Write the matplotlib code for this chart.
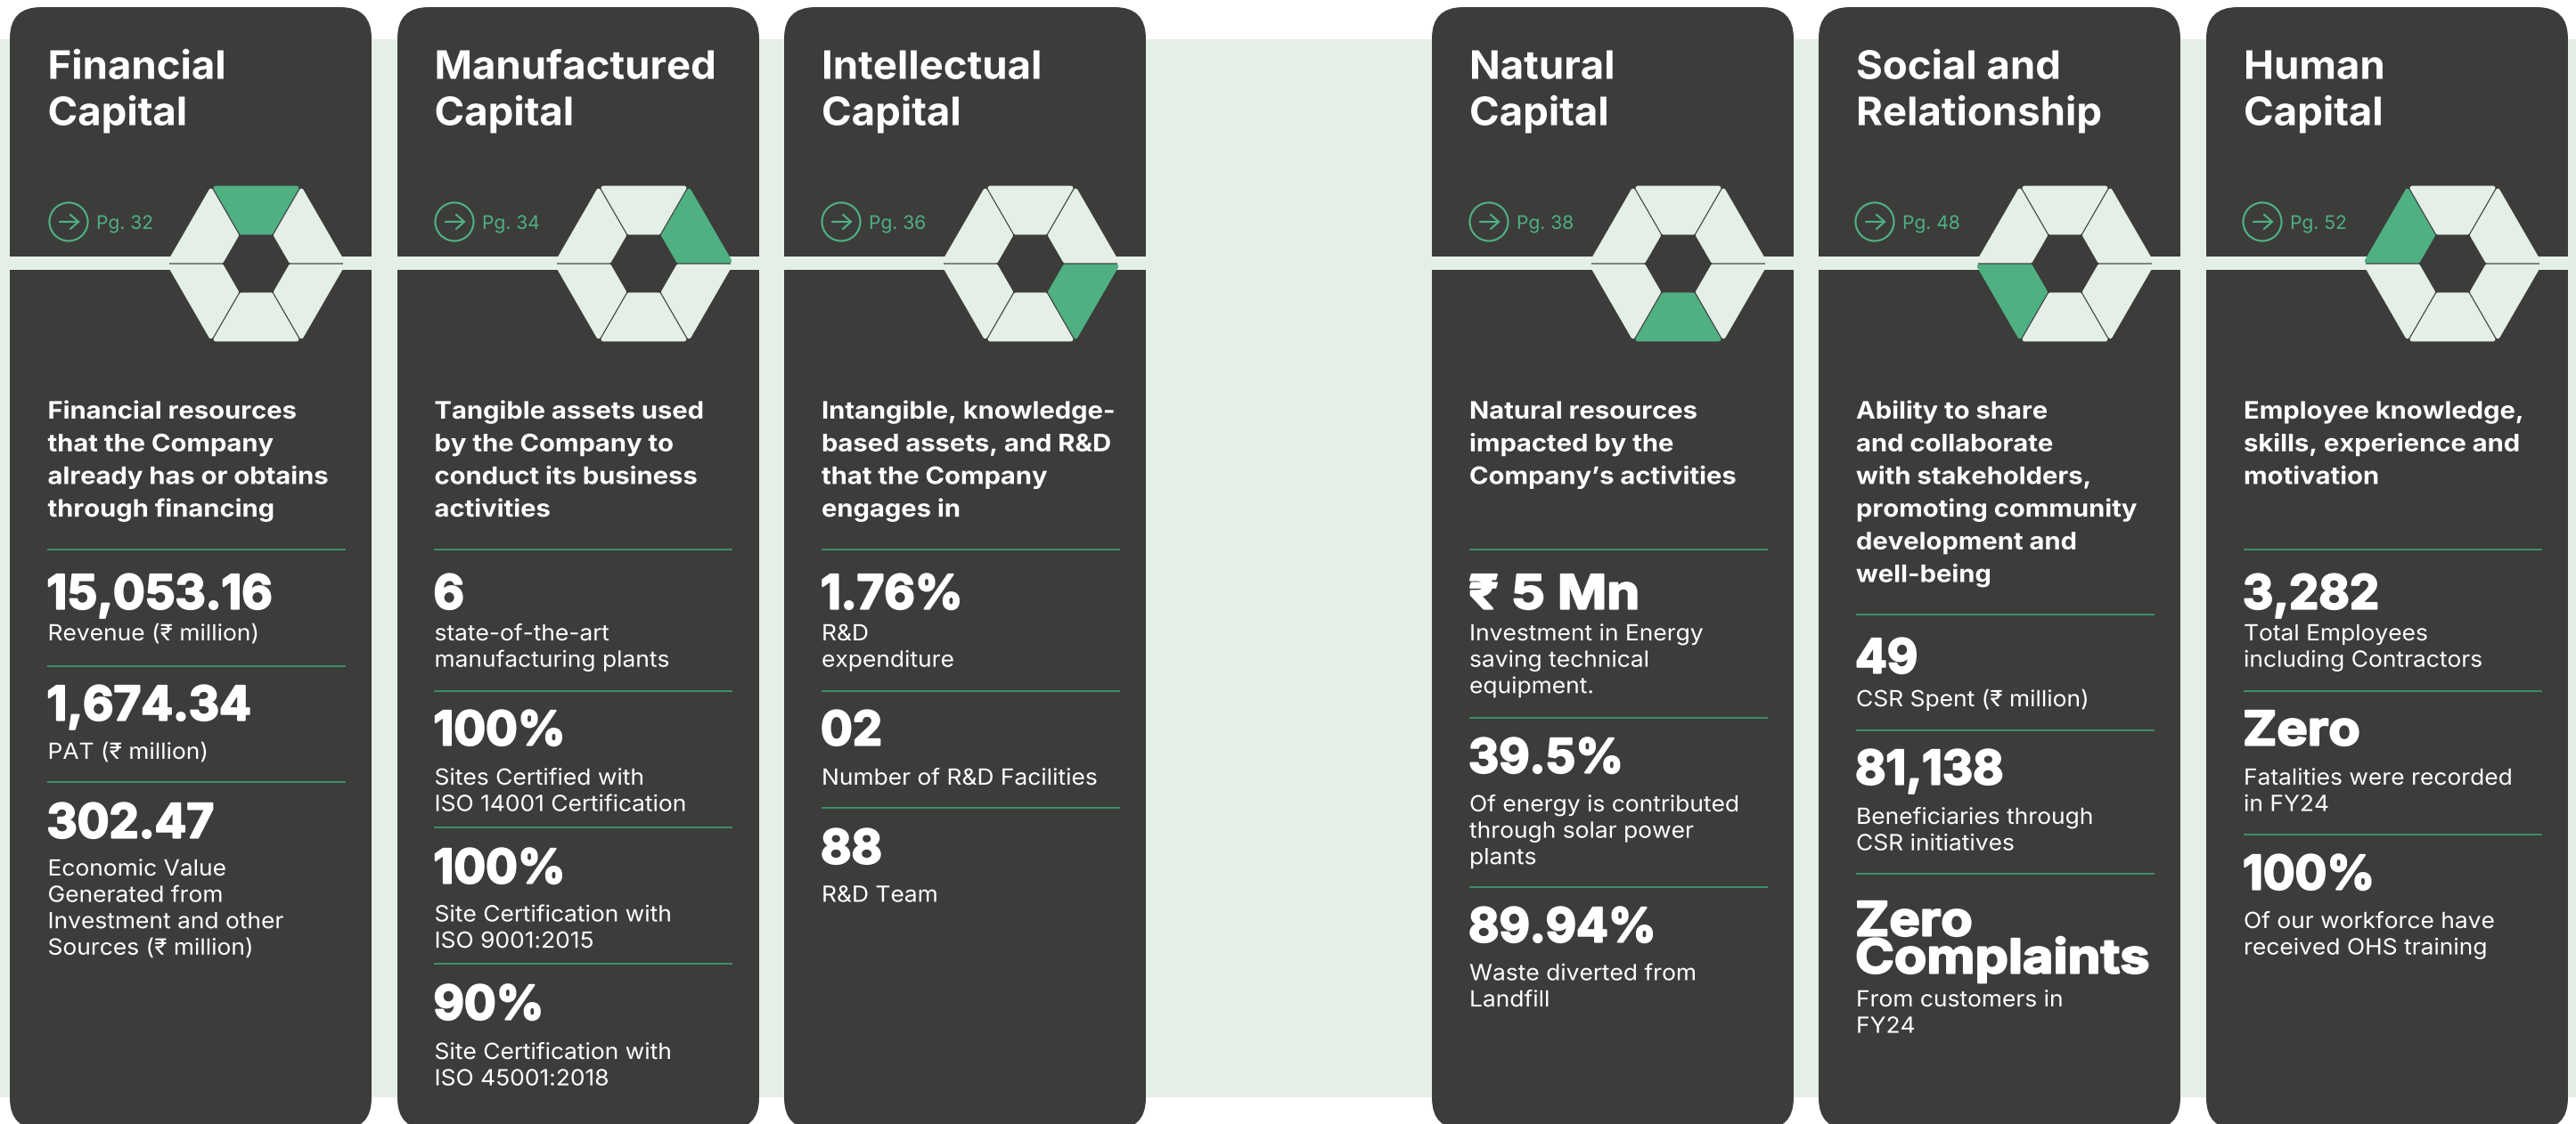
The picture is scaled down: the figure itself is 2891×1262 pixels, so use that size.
import numpy as np
import matplotlib
matplotlib.use("Agg")
import matplotlib.pyplot as plt
from matplotlib.patches import FancyBboxPatch, Rectangle, Polygon, Circle
from matplotlib.patheffects import AbstractPathEffect
from matplotlib.transforms import Affine2D

# ---------- content ----------
titles = [["Financial", "Capital"], ["Manufactured", "Capital"], ["Intellectual", "Capital"],
          ["Natural", "Capital"], ["Social and", "Relationship"], ["Human", "Capital"]]
pages = ["Pg. 32", "Pg. 34", "Pg. 36", "Pg. 38", "Pg. 48", "Pg. 52"]
highlight_sector = [1, 0, 5, 4, 3, 2]
descriptions = [
    ["Financial resources", "that the Company", "already has or obtains", "through financing"],
    ["Tangible assets used", "by the Company to", "conduct its business", "activities"],
    ["Intangible, knowledge-", "based assets, and R&D", "that the Company", "engages in"],
    ["Natural resources", "impacted by the", "Company’s activities"],
    ["Ability to share", "and collaborate", "with stakeholders,", "promoting community", "development and", "well-being"],
    ["Employee knowledge,", "skills, experience and", "motivation"],
]
values = [
    [["15,053.16"], ["1,674.34"], ["302.47"]],
    [["6"], ["100%"], ["100%"], ["90%"]],
    [["1.76%"], ["02"], ["88"]],
    [["₹ 5 Mn"], ["39.5%"], ["89.94%"]],
    [["49"], ["81,138"], ["Zero", "Complaints"]],
    [["3,282"], ["Zero"], ["100%"]],
]
labels = [
    [["Revenue (₹ million)"], ["PAT (₹ million)"],
     ["Economic Value", "Generated from", "Investment and other", "Sources (₹ million)"]],
    [["state-of-the-art", "manufacturing plants"], ["Sites Certified with", "ISO 14001 Certification"],
     ["Site Certification with", "ISO 9001:2015"], ["Site Certification with", "ISO 45001:2018"]],
    [["R&D", "expenditure"], ["Number of R&D Facilities"], ["R&D Team"]],
    [["Investment in Energy", "saving technical", "equipment."],
     ["Of energy is contributed", "through solar power", "plants"],
     ["Waste diverted from", "Landfill"]],
    [["CSR Spent (₹ million)"], ["Beneficiaries through", "CSR initiatives"], ["From customers in", "FY24"]],
    [["Total Employees", "including Contractors"], ["Fatalities were recorded", "in FY24"],
     ["Of our workforce have", "received OHS training"]],
]

# ---------- layout (pixels of the 2891x1262 canvas) ----------
W, H = 2891, 1262
card_left = [11, 446, 880, 1607, 2041, 2476]
card_w = 406
text_x = [53.5, 487.5, 922, 1649, 2083, 2518]
icon_x = [77, 510, 944, 1671, 2104, 2539]
rule_y = [[617, 748, 878], [617, 776, 929, 1082], [617, 776, 907],
          [617, 806, 996], [690, 820, 981], [617, 776, 937]]
value_y = [[683.5, 808.5, 940.5], [683.5, 836.5, 991.5, 1144.5], [683.5, 836.5, 969.5],
           [683.5, 867.5, 1057.5], [755.5, 880.5, 1050.5], [683.5, 836.5, 998.5]]
label_y = [[719, 852, 983], [719, 881, 1034.5, 1189], [719, 881, 1012.5],
           [719, 911, 1100.5], [793, 925, 1130], [719, 881, 1042]]
DIGIT_SX = 1.0
special_sx = {"₹ 5 Mn": 1.12, "Zero": 1.09, "Complaints": 1.12}

DARK, LIGHT, GREEN, RULE = "#3C3C3B", "#E4EFE7", "#4FB082", "#3AA377"
FONT = ["Inter", "DejaVu Sans"]


class Stretch(AbstractPathEffect):
    """Widen glyphs about the text origin."""
    def __init__(self, sx, stroke=0.0):
        self.sx, self.stroke = sx, stroke

    def draw_path(self, renderer, gc, tpath, affine, rgbFace=None):
        m = affine.get_matrix().copy()
        m[0, 0] *= self.sx
        m[0, 1] *= self.sx
        gc0 = renderer.new_gc()
        gc0.copy_properties(gc)
        if self.stroke:
            gc0.set_linewidth(self.stroke)
            gc0.set_foreground(rgbFace)
        renderer.draw_path(gc0, tpath, Affine2D(m), rgbFace)
        gc0.restore()


def px(v):
    return v * 0.72


fig = plt.figure(figsize=(W / 100, H / 100), dpi=100, facecolor="white")
ax = fig.add_axes([0, 0, 1, 1])
ax.set_xlim(0, W)
ax.set_ylim(H, 0)
ax.axis("off")


def put(x, y, s, size, weight, sx, color="white", stroke=0.0):
    ax.text(x, y, s, fontsize=px(size), fontweight=weight, family=FONT, color=color,
            va="baseline", ha="left", path_effects=[Stretch(sx, stroke)], zorder=6)


def inset(poly, d):
    poly = np.asarray(poly, float)
    n = len(poly)
    area = 0.5 * np.sum(poly[:, 0] * np.roll(poly[:, 1], -1) - np.roll(poly[:, 0], -1) * poly[:, 1])
    sgn = 1 if area > 0 else -1
    lines = []
    for i in range(n):
        a, b = poly[i], poly[(i + 1) % n]
        t = (b - a) / np.linalg.norm(b - a)
        nrm = np.array([-t[1], t[0]]) * sgn
        lines.append((a + nrm * d, t))
    out = []
    for i in range(n):
        p1, t1 = lines[i - 1]
        p2, t2 = lines[i]
        s = np.linalg.solve(np.column_stack([t1, -t2]), p2 - p1)
        out.append(p1 + t1 * s[0])
    return np.array(out)


def hex_pts(cx, cy, r):
    return [(cx + r * np.cos(np.radians(a)), cy + r * np.sin(np.radians(a))) for a in range(0, 360, 60)]


ax.add_patch(Rectangle((0, 44), W, 1232 - 44, fc=LIGHT, ec="none", zorder=1))
R_OUT, R_IN, GAP, ROUND = 101.6, 36.8, 0.6, 2.5

for i, left in enumerate(card_left):
    ax.add_patch(FancyBboxPatch((left + 35, 8 + 35), card_w - 70, 1268 - 8 - 70,
                                boxstyle="round,pad=35,rounding_size=35", fc=DARK, ec="none", zorder=2))
    ax.add_patch(Rectangle((left, 288), card_w, 15, fc=LIGHT, ec="none", zorder=3))

    # hexagon wheel
    cx, cy = left + 276.5, 296
    ax.add_patch(Polygon(hex_pts(cx, cy, R_OUT - 4.0), closed=True, fc=DARK, ec="none", zorder=3.5))
    for k in range(6):
        a0, a1 = np.radians(-60 * k), np.radians(-60 * (k + 1))
        pts = [(cx + R_OUT * np.cos(a0), cy + R_OUT * np.sin(a0)), (cx + R_OUT * np.cos(a1), cy + R_OUT * np.sin(a1)),
               (cx + R_IN * np.cos(a1), cy + R_IN * np.sin(a1)), (cx + R_IN * np.cos(a0), cy + R_IN * np.sin(a0))]
        col = GREEN if k == highlight_sector[i] else LIGHT
        ax.add_patch(Polygon(inset(pts, GAP + ROUND), closed=True, fc=col, ec=col,
                             lw=px(2 * ROUND), joinstyle="round", zorder=4))

    tx = text_x[i]
    for j, line in enumerate(titles[i]):
        put(tx, 88.5 + j * 52, line, 44, "bold", 1.035)

    # page reference
    ix, iy = icon_x[i], 249
    ax.add_patch(Circle((ix, iy), 21.5, fc="none", ec=GREEN, lw=px(2.2), zorder=5))
    ax.plot([ix - 10, ix + 11], [iy, iy], color=GREEN, lw=px(2.2), zorder=5, solid_capstyle="round")
    ax.plot([ix + 2, ix + 11, ix + 2], [iy - 8, iy, iy + 8], color=GREEN, lw=px(2.2), zorder=5,
            solid_capstyle="round", solid_joinstyle="miter")
    put(ix + 31, 257, pages[i], 21, "normal", 1.0, color=GREEN)

    for j, line in enumerate(descriptions[i]):
        put(tx, 470 + j * 36.7, line, 27, "bold", 1.08)

    for y in rule_y[i]:
        ax.plot([tx - 0.5, tx + 334.5], [y, y], color=RULE, lw=px(1.6), zorder=5, solid_capstyle="butt")

    for j, val in enumerate(values[i]):
        for m, line in enumerate(val):
            sx = special_sx.get(line, DIGIT_SX)
            put(tx - 1, value_y[i][j] + m * 42, line, 53, "bold", sx, stroke=1.6)
        for m, line in enumerate(labels[i][j]):
            put(tx, label_y[i][j] + m * 29.6, line, 25, "normal", 1.055)

fig.savefig("out.png", dpi=100, facecolor="white")
